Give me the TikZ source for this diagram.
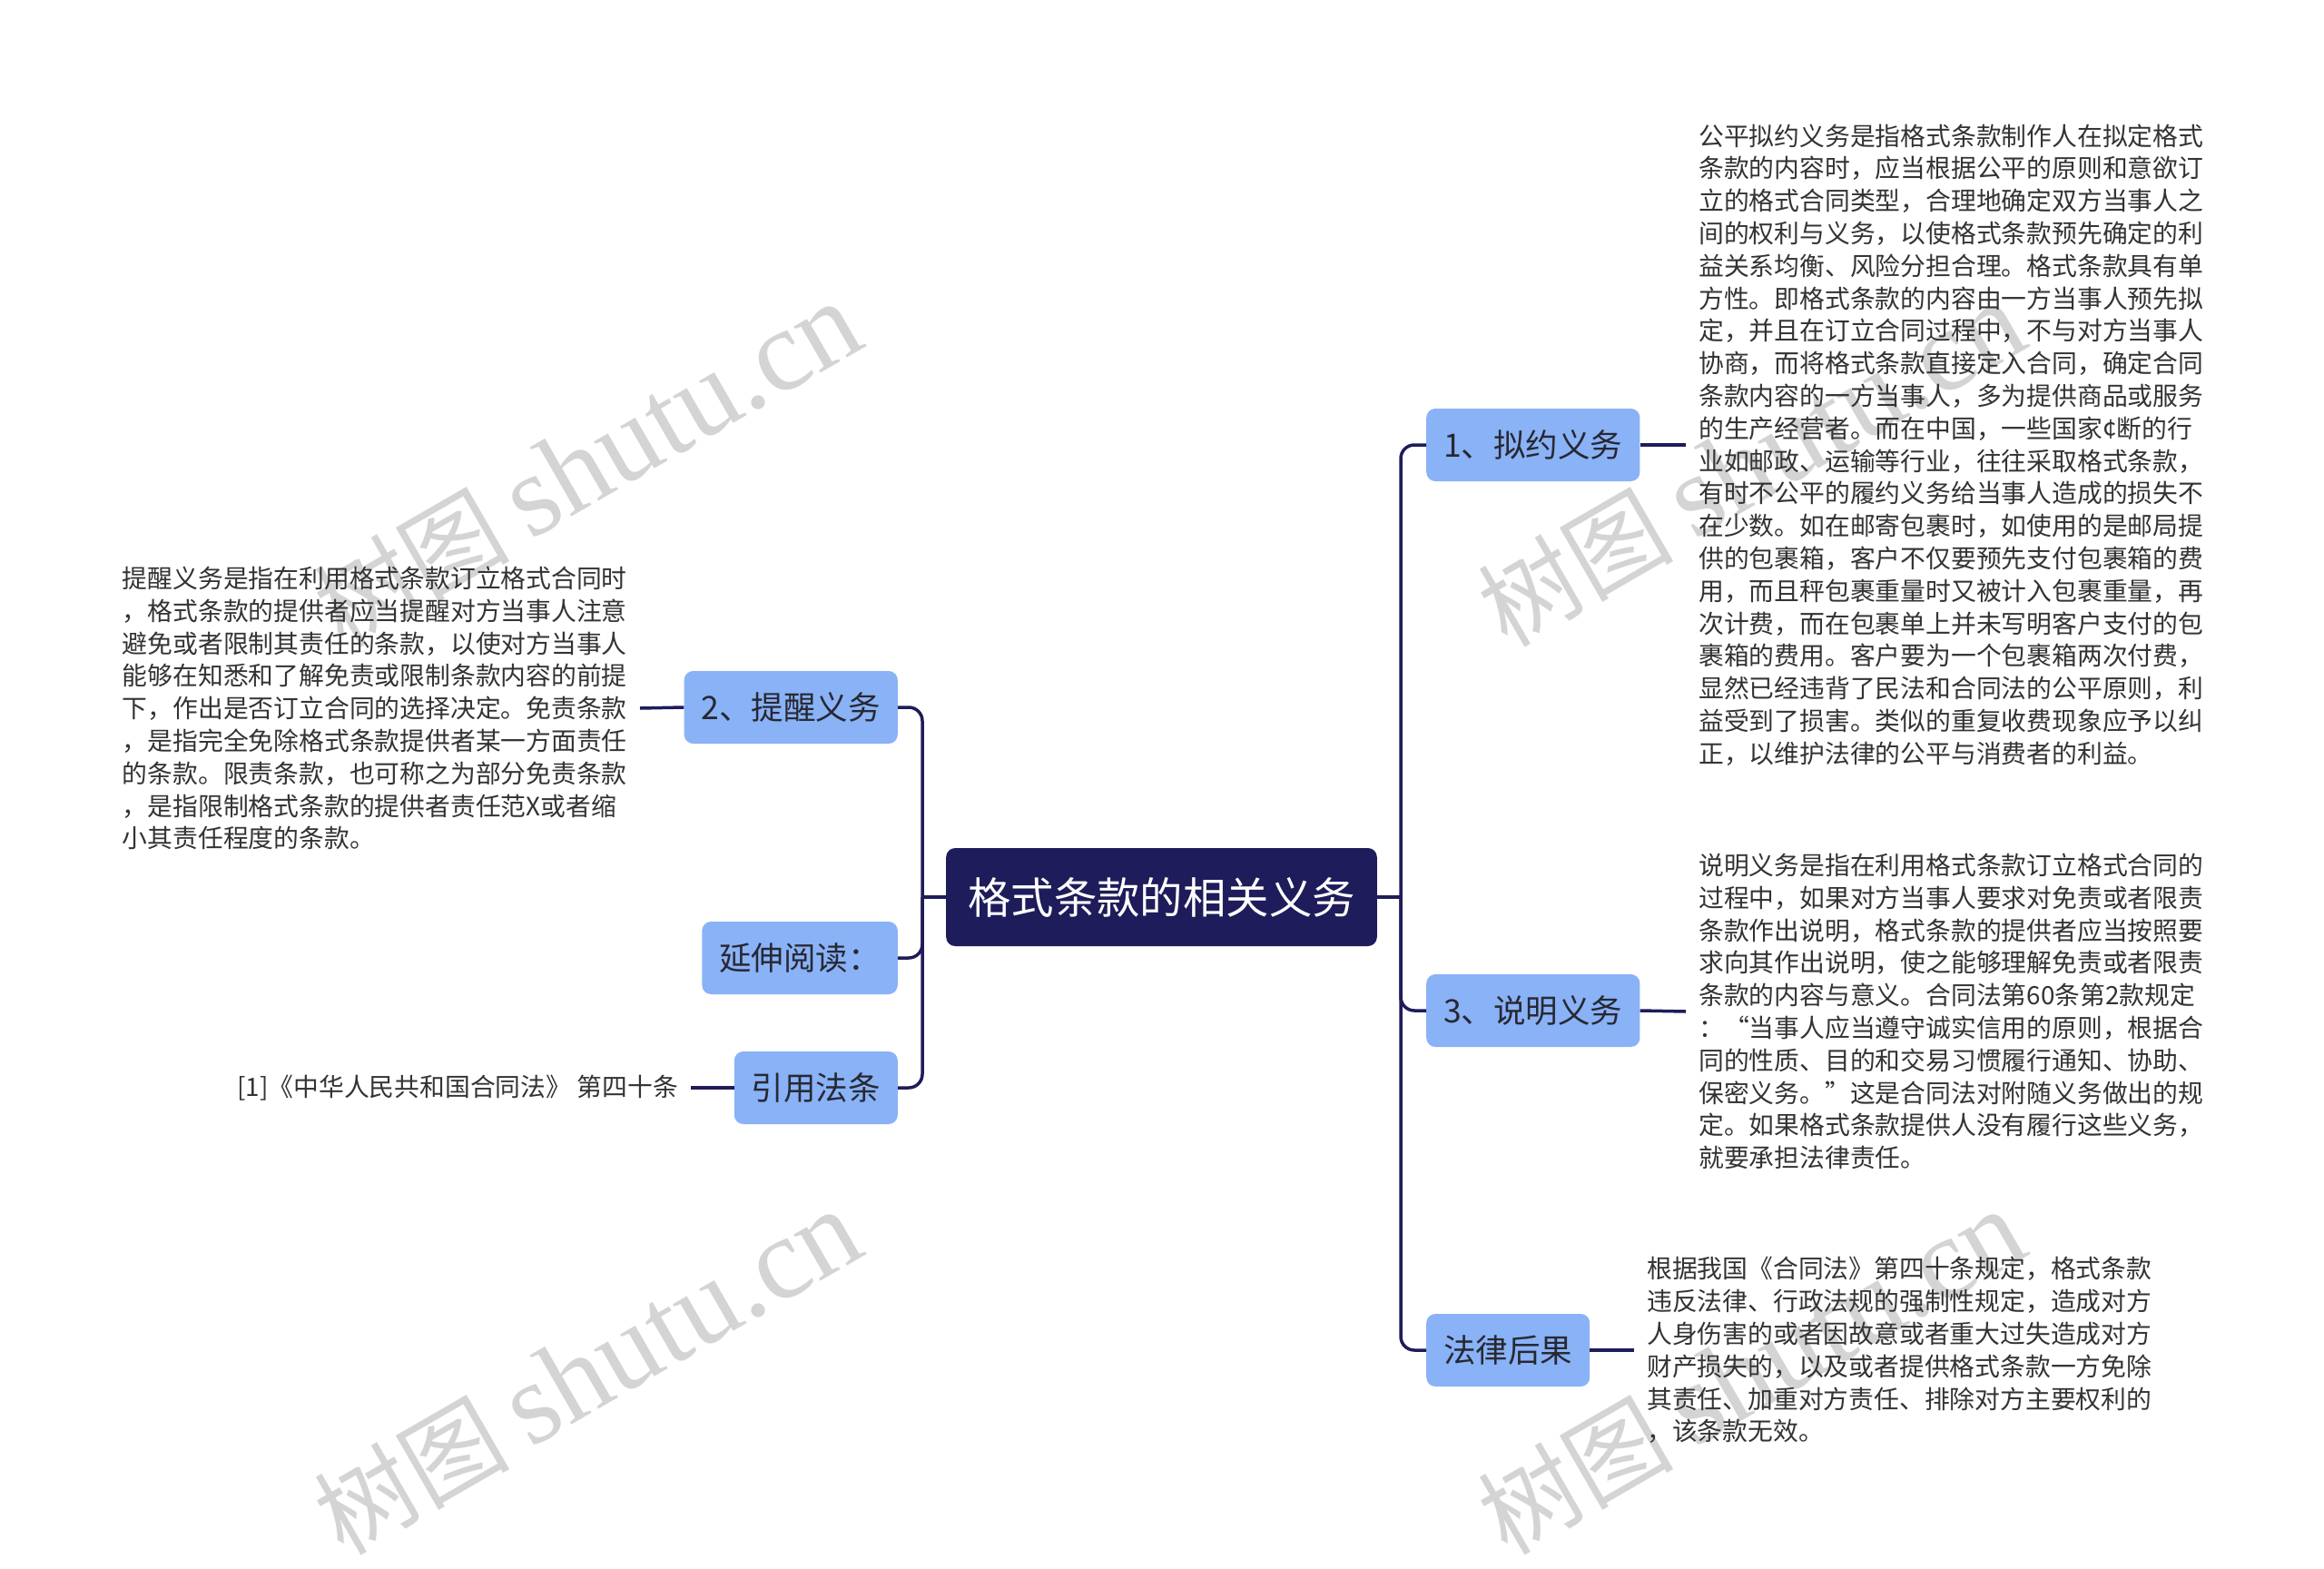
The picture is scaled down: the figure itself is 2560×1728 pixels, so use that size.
\documentclass[tikz,border=0pt]{standalone}
\usepackage{fontspec}
\setmainfont{Noto Sans CJK SC}
\newfontfamily\wmserif{Liberation Serif}
\definecolor{navy}{RGB}{30,28,90}
\definecolor{leaf}{RGB}{137,178,247}
\definecolor{boxtxt}{RGB}{40,40,50}
\definecolor{bodytxt}{RGB}{51,51,51}
\definecolor{wm}{RGB}{212,212,212}
\newcommand{\wmtext}{{\fontsize{108pt}{108pt}\selectfont 树图}\hspace{22pt}{\wmserif\fontsize{128pt}{128pt}\selectfont shutu.cn}}
\begin{document}
\begin{tikzpicture}[x=1pt,y=-1pt,
  rootbox/.style={fill=navy, text=white, rounded corners=10pt, minimum height=108pt, inner xsep=24pt, inner ysep=0pt, font=\fontsize{47.4pt}{50pt}\selectfont},
  branch/.style={fill=leaf, text=boxtxt, rounded corners=10pt, minimum height=80pt, inner xsep=19pt, inner ysep=0pt, font=\fontsize{35.5pt}{38pt}\selectfont},
  para/.style={align=left, text=bodytxt, inner xsep=14pt, inner ysep=0pt, font=\fontsize{27.8pt}{35.8pt}\selectfont},
  link/.style={draw=navy, line width=3.5pt},
  wmark/.style={text=wm, rotate=30, inner sep=0pt}
]
\useasboundingbox[fill=white] (0,0) rectangle (2560,1728);

% watermarks
\node[wmark] (wm1) at (647,512) {\wmtext};
\node[wmark] (wm2) at (647,1512) {\wmtext};
\node[wmark] (wm3) at (1929,512) {\wmtext};
\node[wmark] (wm4) at (1929,1512) {\wmtext};

% root
\node[rootbox] (root) at (1279.5,988) {格式条款的相关义务};

% right branches
\node[branch, anchor=west] (b1) at (1571,490) {1、拟约义务};
\node[branch, anchor=west] (b3) at (1571,1113) {3、说明义务};
\node[branch, anchor=west] (b4) at (1571,1487) {法律后果};

% left branches
\node[branch, anchor=east] (l2) at (989,779) {2、提醒义务};
\node[branch, anchor=east] (l5) at (989,1055) {延伸阅读：};
\node[branch, anchor=east] (l6) at (989,1198) {引用法条};

% paragraphs
\node[para, anchor=west] (t1) at (1857,490) {公平拟约义务是指格式条款制作人在拟定格式\\
条款的内容时，应当根据公平的原则和意欲订\\
立的格式合同类型，合理地确定双方当事人之\\
间的权利与义务，以使格式条款预先确定的利\\
益关系均衡、风险分担合理。格式条款具有单\\
方性。即格式条款的内容由一方当事人预先拟\\
定，并且在订立合同过程中，不与对方当事人\\
协商，而将格式条款直接定入合同，确定合同\\
条款内容的一方当事人，多为提供商品或服务\\
的生产经营者。而在中国，一些国家¢断的行\\
业如邮政、运输等行业，往往采取格式条款，\\
有时不公平的履约义务给当事人造成的损失不\\
在少数。如在邮寄包裹时，如使用的是邮局提\\
供的包裹箱，客户不仅要预先支付包裹箱的费\\
用，而且秤包裹重量时又被计入包裹重量，再\\
次计费，而在包裹单上并未写明客户支付的包\\
裹箱的费用。客户要为一个包裹箱两次付费，\\
显然已经违背了民法和合同法的公平原则，利\\
益受到了损害。类似的重复收费现象应予以纠\\
正，以维护法律的公平与消费者的利益。};

\node[para, anchor=west] (t3) at (1857,1114) {说明义务是指在利用格式条款订立格式合同的\\
过程中，如果对方当事人要求对免责或者限责\\
条款作出说明，格式条款的提供者应当按照要\\
求向其作出说明，使之能够理解免责或者限责\\
条款的内容与意义。合同法第60条第2款规定\\
：“当事人应当遵守诚实信用的原则，根据合\\
同的性质、目的和交易习惯履行通知、协助、\\
保密义务。”这是合同法对附随义务做出的规\\
定。如果格式条款提供人没有履行这些义务，\\
就要承担法律责任。};

\node[para, anchor=west] (t4) at (1800,1487) {根据我国《合同法》第四十条规定，格式条款\\
违反法律、行政法规的强制性规定，造成对方\\
人身伤害的或者因故意或者重大过失造成对方\\
财产损失的，以及或者提供格式条款一方免除\\
其责任、加重对方责任、排除对方主要权利的\\
，该条款无效。};

\node[para, anchor=east] (t2) at (705,780) {提醒义务是指在利用格式条款订立格式合同时\\
，格式条款的提供者应当提醒对方当事人注意\\
避免或者限制其责任的条款，以使对方当事人\\
能够在知悉和了解免责或限制条款内容的前提\\
下，作出是否订立合同的选择决定。免责条款\\
，是指完全免除格式条款提供者某一方面责任\\
的条款。限责条款，也可称之为部分免责条款\\
，是指限制格式条款的提供者责任范X或者缩\\
小其责任程度的条款。};

\node[para, anchor=east] (t6) at (761,1198) {[1]《中华人民共和国合同法》 第四十条};

% trunks
\coordinate (rtrunk) at (1543,988);
\coordinate (ltrunk) at (1016,988);

\draw[link] (root.east) -- (rtrunk);
\draw[link, rounded corners=15pt] (rtrunk) |- (b1.west);
\draw[link, rounded corners=15pt] (rtrunk) |- (b3.west);
\draw[link, rounded corners=15pt] (rtrunk) |- (b4.west);

\draw[link] (root.west) -- (ltrunk);
\draw[link, rounded corners=15pt] (ltrunk) |- (l2.east);
\draw[link, rounded corners=15pt] (ltrunk) |- (l5.east);
\draw[link, rounded corners=15pt] (ltrunk) |- (l6.east);

% leaf connectors
\draw[link] (b1.east) -- (t1.west);
\draw[link] (b3.east) -- (t3.west);
\draw[link] (b4.east) -- (t4.west);
\draw[link] (l2.west) -- (t2.east);
\draw[link] (l6.west) -- (t6.east);
\end{tikzpicture}
\end{document}
